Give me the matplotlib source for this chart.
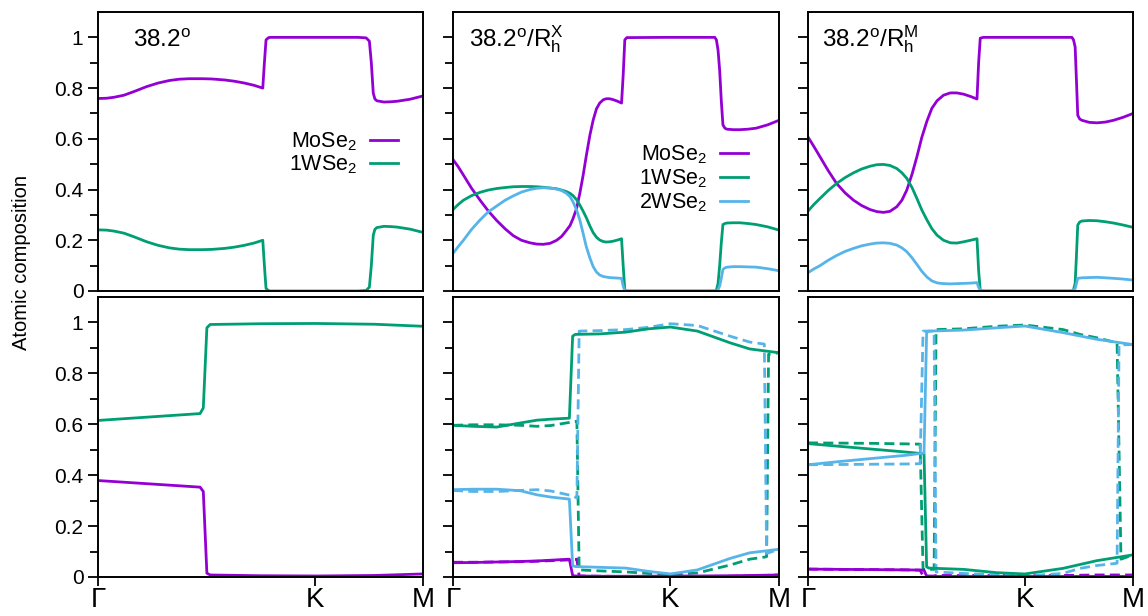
import matplotlib
matplotlib.use('Agg')
import matplotlib.pyplot as plt
from matplotlib.ticker import FixedLocator

plt.rcParams['font.family'] = ['Liberation Sans', 'DejaVu Sans']
plt.rcParams['mathtext.fontset'] = 'custom'
plt.rcParams['mathtext.rm'] = 'Liberation Sans'
plt.rcParams['mathtext.it'] = 'Liberation Sans:italic'
plt.rcParams['mathtext.bf'] = 'Liberation Sans:bold'

C_MO = '#9400D3'
C_W1 = '#009E73'
C_W2 = '#56B4E9'

# ---------------- data ----------------
kpath_ticks = [0.0, 2.0 / 3.0, 1.0]
kpath_labels = ['Γ', 'K', 'M']
y_major = [0.0, 0.2, 0.4, 0.6, 0.8, 1.0]
y_minor = [0.1, 0.3, 0.5, 0.7, 0.9]
y_labels = ['0', '0.2', '0.4', '0.6', '0.8', '1']
series_names = ['MoSe$_2$', '1WSe$_2$', '2WSe$_2$']
panel_titles = ['38.2$^{\\mathrm{o}}$',
                '38.2$^{\\mathrm{o}}$/R$_{\\mathrm{h}}^{\\mathrm{X}}$',
                '38.2$^{\\mathrm{o}}$/R$_{\\mathrm{h}}^{\\mathrm{M}}$']

# top-left: 38.2
a_x = [0.00, 0.027, 0.05, 0.08, 0.11, 0.15, 0.185, 0.22, 0.25, 0.28, 0.32, 0.35, 0.39, 0.42, 0.45,
       0.48, 0.507, 0.512, 0.517, 0.525, 0.53, 0.60, 0.70, 0.80, 0.825, 0.835, 0.841, 0.847, 0.852,
       0.858, 0.88, 0.90, 0.92, 0.96, 1.00]
a_mo = [0.759, 0.760, 0.764, 0.772, 0.786, 0.806, 0.820, 0.830, 0.835, 0.837, 0.837, 0.836, 0.832,
        0.827, 0.820, 0.811, 0.800, 0.900, 0.990, 0.999, 1.000, 1.000, 1.000, 1.000, 0.998, 0.985,
        0.900, 0.780, 0.757, 0.750, 0.745, 0.746, 0.748, 0.756, 0.769]
a_w1 = [0.241, 0.240, 0.236, 0.228, 0.214, 0.194, 0.180, 0.170, 0.165, 0.163, 0.163, 0.164, 0.168,
        0.173, 0.180, 0.189, 0.200, 0.100, 0.010, 0.001, 0.000, 0.000, 0.000, 0.000, 0.002, 0.015,
        0.100, 0.220, 0.243, 0.250, 0.255, 0.254, 0.252, 0.244, 0.231]

# bottom-left: 38.2
b_x = [0.00, 0.314, 0.324, 0.335, 0.345, 0.50, 0.67, 0.85, 1.00]
b_w1 = [0.615, 0.642, 0.664, 0.979, 0.992, 0.995, 0.996, 0.993, 0.985]
b_mo = [0.379, 0.353, 0.336, 0.015, 0.008, 0.005, 0.004, 0.006, 0.012]

# top-middle: 38.2/RhX
c_x = [0.000, 0.016, 0.032, 0.057, 0.083, 0.108, 0.134, 0.160, 0.185, 0.210, 0.236, 0.257, 0.277,
       0.298, 0.318, 0.333, 0.348, 0.359, 0.368, 0.379, 0.389, 0.399, 0.409, 0.420, 0.430, 0.440,
       0.450, 0.461, 0.470, 0.480, 0.490, 0.505, 0.517, 0.522, 0.527, 0.533, 0.650, 0.750, 0.803,
       0.808, 0.813, 0.818, 0.823, 0.828, 0.834, 0.840, 0.860, 0.880, 0.905, 0.930, 0.965, 1.000]
c_mo = [0.518, 0.490, 0.457, 0.405, 0.358, 0.316, 0.278, 0.245, 0.218, 0.200, 0.190, 0.185, 0.184,
        0.188, 0.200, 0.215, 0.239, 0.258, 0.285, 0.325, 0.385, 0.455, 0.534, 0.615, 0.674, 0.718,
        0.741, 0.754, 0.758, 0.758, 0.755, 0.748, 0.741, 0.850, 0.990, 0.999, 1.000, 1.000, 1.000,
        0.990, 0.950, 0.870, 0.750, 0.655, 0.642, 0.638, 0.636, 0.636, 0.638, 0.642, 0.655, 0.673]
c_w1 = [0.321, 0.341, 0.358, 0.376, 0.389, 0.398, 0.404, 0.408, 0.411, 0.412, 0.412, 0.411, 0.409,
        0.406, 0.403, 0.398, 0.392, 0.385, 0.376, 0.360, 0.339, 0.315, 0.289, 0.256, 0.230, 0.212,
        0.201, 0.195, 0.193, 0.194, 0.196, 0.201, 0.206, 0.100, 0.004, 0.000, 0.000, 0.000, 0.000,
        0.003, 0.030, 0.100, 0.190, 0.262, 0.266, 0.268, 0.269, 0.269, 0.266, 0.262, 0.253, 0.240]
c_w2 = [0.148, 0.175, 0.200, 0.243, 0.280, 0.312, 0.335, 0.358, 0.375, 0.390, 0.400, 0.405, 0.407,
        0.406, 0.402, 0.396, 0.385, 0.372, 0.352, 0.320, 0.280, 0.228, 0.174, 0.130, 0.096, 0.075,
        0.063, 0.057, 0.055, 0.053, 0.052, 0.051, 0.050, 0.020, 0.000, 0.000, 0.000, 0.000, 0.000,
        0.000, 0.005, 0.020, 0.050, 0.085, 0.091, 0.094, 0.096, 0.096, 0.095, 0.094, 0.088, 0.080]

# bottom-middle: 38.2/RhX (solid)
e_x = [0.000, 0.060, 0.134, 0.206, 0.257, 0.300, 0.357, 0.367, 0.375, 0.450, 0.530, 0.600, 0.667,
       0.750, 0.850, 0.910, 1.000]
e_w1 = [0.596, 0.592, 0.589, 0.605, 0.616, 0.620, 0.624, 0.946, 0.953, 0.955, 0.962, 0.975, 0.982,
        0.966, 0.920, 0.896, 0.881]
e_w2 = [0.343, 0.345, 0.345, 0.339, 0.323, 0.314, 0.306, 0.045, 0.041, 0.038, 0.035, 0.022, 0.012,
        0.028, 0.073, 0.095, 0.109]
e_mo = [0.056, 0.057, 0.059, 0.061, 0.063, 0.066, 0.070, 0.006, 0.004, 0.003, 0.003, 0.003, 0.004,
        0.004, 0.005, 0.006, 0.008]
# bottom-middle: 38.2/RhX (dashed)
ed_x = [0.000, 0.060, 0.134, 0.206, 0.257, 0.300, 0.370, 0.380, 0.387, 0.450, 0.530, 0.600, 0.667,
        0.750, 0.850, 0.910, 0.955, 0.962, 0.968, 1.000]
ed_w1 = [0.596, 0.598, 0.598, 0.596, 0.592, 0.595, 0.610, 0.612, 0.028, 0.024, 0.020, 0.014, 0.010,
         0.016, 0.047, 0.070, 0.078, 0.080, 0.875, 0.881]
ed_w2 = [0.340, 0.336, 0.336, 0.340, 0.343, 0.338, 0.318, 0.310, 0.966, 0.968, 0.972, 0.981, 0.995,
         0.988, 0.946, 0.923, 0.915, 0.093, 0.095, 0.109]
ed_mo = [0.058, 0.058, 0.059, 0.060, 0.062, 0.064, 0.068, 0.070, 0.004, 0.003, 0.002, 0.002, 0.002,
         0.002, 0.003, 0.004, 0.005, 0.006, 0.007, 0.008]

# top-right: 38.2/RhM
d_x = [0.000, 0.018, 0.037, 0.062, 0.088, 0.114, 0.140, 0.165, 0.191, 0.212, 0.232, 0.252, 0.273,
       0.289, 0.304, 0.320, 0.335, 0.350, 0.366, 0.381, 0.397, 0.417, 0.438, 0.458, 0.479, 0.500,
       0.520, 0.525, 0.530, 0.540, 0.650, 0.750, 0.812, 0.817, 0.822, 0.826, 0.830, 0.836, 0.843,
       0.865, 0.889, 0.915, 0.940, 0.970, 1.000]
d_mo = [0.607, 0.570, 0.529, 0.475, 0.424, 0.387, 0.358, 0.337, 0.321, 0.313, 0.310, 0.314, 0.332,
        0.358, 0.398, 0.460, 0.529, 0.605, 0.670, 0.720, 0.750, 0.772, 0.781, 0.781, 0.776, 0.767,
        0.757, 0.900, 0.997, 1.000, 1.000, 1.000, 1.000, 0.990, 0.962, 0.830, 0.693, 0.678, 0.673,
        0.665, 0.663, 0.666, 0.673, 0.685, 0.700]
d_w1 = [0.315, 0.341, 0.365, 0.396, 0.424, 0.447, 0.466, 0.481, 0.492, 0.498, 0.499, 0.495, 0.483,
        0.466, 0.444, 0.408, 0.365, 0.320, 0.280, 0.246, 0.220, 0.200, 0.190, 0.189, 0.194, 0.200,
        0.206, 0.080, 0.002, 0.000, 0.000, 0.000, 0.000, 0.005, 0.030, 0.140, 0.260, 0.272, 0.276,
        0.278, 0.277, 0.273, 0.268, 0.260, 0.251]
d_w2 = [0.072, 0.087, 0.100, 0.121, 0.140, 0.156, 0.168, 0.178, 0.185, 0.189, 0.190, 0.188, 0.181,
        0.170, 0.155, 0.131, 0.105, 0.078, 0.055, 0.040, 0.032, 0.029, 0.028, 0.029, 0.030, 0.031,
        0.033, 0.015, 0.000, 0.000, 0.000, 0.000, 0.000, 0.002, 0.010, 0.030, 0.050, 0.051, 0.052,
        0.053, 0.054, 0.052, 0.050, 0.047, 0.043]

# bottom-right: 38.2/RhM (solid)
f_x = [0.000, 0.100, 0.200, 0.300, 0.357, 0.365, 0.372, 0.478, 0.581, 0.667, 0.785, 0.888, 1.000]
f_w1 = [0.524, 0.513, 0.502, 0.491, 0.484, 0.040, 0.035, 0.030, 0.017, 0.012, 0.034, 0.064, 0.087]
f_w2 = [0.441, 0.454, 0.466, 0.478, 0.487, 0.960, 0.966, 0.970, 0.979, 0.986, 0.960, 0.934, 0.913]
f_mo = [0.031, 0.030, 0.029, 0.028, 0.027, 0.003, 0.002, 0.002, 0.002, 0.002, 0.002, 0.002, 0.002]
# bottom-right: 38.2/RhM (dashed)
fd_x = [0.000, 0.100, 0.200, 0.300, 0.345, 0.354, 0.388, 0.394, 0.478, 0.581, 0.667, 0.785, 0.837,
        0.888, 0.951, 0.957, 0.963, 1.000]
fd_w1 = [0.527, 0.526, 0.525, 0.523, 0.522, 0.030, 0.030, 0.972, 0.975, 0.985, 0.990, 0.972, 0.953,
         0.940, 0.920, 0.500, 0.070, 0.087]
fd_w2 = [0.441, 0.442, 0.443, 0.444, 0.445, 0.966, 0.966, 0.020, 0.014, 0.008, 0.004, 0.014, 0.034,
         0.045, 0.054, 0.910, 0.912, 0.913]
fd_mo = [0.031, 0.030, 0.029, 0.028, 0.027, 0.004, 0.004, 0.006, 0.006, 0.006, 0.005, 0.006, 0.007,
         0.008, 0.008, 0.008, 0.008, 0.008]

# ---------------- layout ----------------
W, H = 1148, 616
fig = plt.figure(figsize=(W / 100, H / 100), dpi=100)

col_px = [(98, 325), (453, 326), (808, 325)]
row_px = [(12, 291), (297, 577)]


def make_ax(col, row):
    x0, w = col_px[col]
    top, bot = row_px[row]
    return fig.add_axes([x0 / W, (H - bot) / H, w / W, (bot - top) / H])


LW = 2.0
DASH = (3.6, 1.9)

axes = [[make_ax(c, r) for c in range(3)] for r in range(2)]

# top row
ax = axes[0][0]
ax.plot(a_x, a_mo, color=C_MO, lw=LW)
ax.plot(a_x, a_w1, color=C_W1, lw=LW)

ax = axes[0][1]
ax.plot(c_x, c_mo, color=C_MO, lw=LW)
ax.plot(c_x, c_w1, color=C_W1, lw=LW)
ax.plot(c_x, c_w2, color=C_W2, lw=LW)

ax = axes[0][2]
ax.plot(d_x, d_mo, color=C_MO, lw=LW)
ax.plot(d_x, d_w1, color=C_W1, lw=LW)
ax.plot(d_x, d_w2, color=C_W2, lw=LW)

# bottom row
ax = axes[1][0]
ax.plot(b_x, b_mo, color=C_MO, lw=LW)
ax.plot(b_x, b_w1, color=C_W1, lw=LW)

ax = axes[1][1]
ax.plot(ed_x, ed_mo, color=C_MO, lw=LW, dashes=DASH)
ax.plot(ed_x, ed_w1, color=C_W1, lw=LW, dashes=DASH)
ax.plot(ed_x, ed_w2, color=C_W2, lw=LW, dashes=DASH)
ax.plot(e_x, e_mo, color=C_MO, lw=LW)
ax.plot(e_x, e_w1, color=C_W1, lw=LW)
ax.plot(e_x, e_w2, color=C_W2, lw=LW)

ax = axes[1][2]
ax.plot(fd_x, fd_mo, color=C_MO, lw=LW, dashes=DASH)
ax.plot(fd_x, fd_w1, color=C_W1, lw=LW, dashes=DASH)
ax.plot(fd_x, fd_w2, color=C_W2, lw=LW, dashes=DASH)
ax.plot(f_x, f_mo, color=C_MO, lw=LW)
ax.plot(f_x, f_w1, color=C_W1, lw=LW)
ax.plot(f_x, f_w2, color=C_W2, lw=LW)

for r in range(2):
    for c in range(3):
        ax = axes[r][c]
        ax.set_xlim(0, 1)
        ax.set_ylim(0, 1.1)
        for s in ax.spines.values():
            s.set_linewidth(1.4)
        ax.yaxis.set_major_locator(FixedLocator(y_major))
        ax.yaxis.set_minor_locator(FixedLocator(y_minor))
        ax.tick_params(axis='y', which='major', direction='out', length=7.5, width=1.3,
                       labelsize=15, pad=3, right=False)
        ax.tick_params(axis='y', which='minor', direction='out', length=6, width=1.3, right=False)
        if c == 0:
            ax.set_yticklabels(y_labels)
        else:
            ax.set_yticklabels([])
        if r == 1:
            ax.set_xticks(kpath_ticks)
            ax.set_xticklabels(kpath_labels)
            ax.tick_params(axis='x', direction='out', length=6.5, width=1.3, labelsize=20, pad=1,
                           top=False)
        else:
            ax.set_xticks([])

# panel titles
title_x = [0.108, 0.049, 0.043]
for c in range(3):
    axes[0][c].text(title_x[c], 0.876, panel_titles[c], transform=axes[0][c].transAxes,
                    fontsize=17.5, ha='left', va='baseline')


def draw_key(ax, names, colors, x_text, x_l0, x_l1, ys):
    for name, col, y in zip(names, colors, ys):
        ax.plot([x_l0, x_l1], [y, y], transform=ax.transAxes, color=col, lw=LW, clip_on=False)
        ax.annotate(name, xy=(x_text, y), xycoords='axes fraction', xytext=(0, -5.5),
                    textcoords='offset points', ha='right', va='baseline', fontsize=15.5)


draw_key(axes[0][0], series_names[:2], [C_MO, C_W1], 0.797, 0.837, 0.923, [0.541, 0.459])
draw_key(axes[0][1], series_names, [C_MO, C_W1, C_W2], 0.779, 0.819, 0.905, [0.495, 0.409, 0.323])

fig.text(22 / W, 1 - 262 / H, 'Atomic composition', rotation=90, ha='center', va='center',
         fontsize=14.5)

fig.savefig('out.png', dpi=100)
